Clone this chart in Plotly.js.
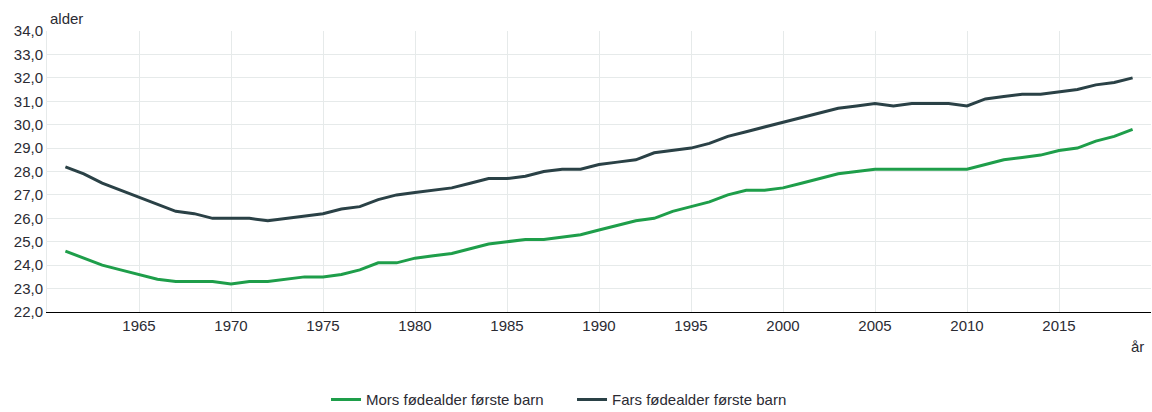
<!DOCTYPE html>
<html>
<head>
<meta charset="utf-8">
<script src="https://cdn.plot.ly/plotly-3.0.1.min.js"></script>
<style>html,body{margin:0;padding:0;background:#fff;}#chart{width:1152px;height:412px;}</style>
</head>
<body>
<div id="chart"></div>
<script>
const years = [1961,1962,1963,1964,1965,1966,1967,1968,1969,1970,1971,1972,1973,1974,1975,1976,1977,1978,1979,1980,1981,1982,1983,1984,1985,1986,1987,1988,1989,1990,1991,1992,1993,1994,1995,1996,1997,1998,1999,2000,2001,2002,2003,2004,2005,2006,2007,2008,2009,2010,2011,2012,2013,2014,2015,2016,2017,2018,2019];
const mors = [24.6,24.3,24.0,23.8,23.6,23.4,23.3,23.3,23.3,23.2,23.3,23.3,23.4,23.5,23.5,23.6,23.8,24.1,24.1,24.3,24.4,24.5,24.7,24.9,25.0,25.1,25.1,25.2,25.3,25.5,25.7,25.9,26.0,26.3,26.5,26.7,27.0,27.2,27.2,27.3,27.5,27.7,27.9,28.0,28.1,28.1,28.1,28.1,28.1,28.1,28.3,28.5,28.6,28.7,28.9,29.0,29.3,29.5,29.8];
const fars = [28.2,27.9,27.5,27.2,26.9,26.6,26.3,26.2,26.0,26.0,26.0,25.9,26.0,26.1,26.2,26.4,26.5,26.8,27.0,27.1,27.2,27.3,27.5,27.7,27.7,27.8,28.0,28.1,28.1,28.3,28.4,28.5,28.8,28.9,29.0,29.2,29.5,29.7,29.9,30.1,30.3,30.5,30.7,30.8,30.9,30.8,30.9,30.9,30.9,30.8,31.1,31.2,31.3,31.3,31.4,31.5,31.7,31.8,32.0];
const seriesNames = ["Mors fødealder første barn","Fars fødealder første barn"];
const xTicks = [1965,1970,1975,1980,1985,1990,1995,2000,2005,2010,2015];
const yTitle = "alder";
const xTitle = "år";

const font = "Liberation Sans, Arial, sans-serif";
const txt = "#2b2b33";
const traces = [
  {x: years, y: mors, name: seriesNames[0], type: "scatter", mode: "lines",
   line: {color: "#1e9e4a", width: 3}},
  {x: years, y: fars, name: seriesNames[1], type: "scatter", mode: "lines",
   line: {color: "#2a4146", width: 3}}
];
const layout = {
  width: 1152, height: 412,
  margin: {l: 47, r: 1, t: 31, b: 100},
  paper_bgcolor: "#fff", plot_bgcolor: "#fff",
  separators: ", ",
  font: {family: font, size: 15, color: txt},
  showlegend: true,
  legend: {orientation: "h", xref: "container", yref: "container",
           x: 0.283, xanchor: "left", y: 0.03, yanchor: "middle",
           entrywidth: 201, entrywidthmode: "pixels",
           font: {family: font, size: 15, color: txt}, tracegroupgap: 0, itemwidth: 30},
  xaxis: {range: [1960, 2020], tickvals: xTicks,
          showgrid: true, gridcolor: "#e6eaea", gridwidth: 1, zeroline: false,
          showline: true, linecolor: "#000", linewidth: 1, ticks: "", ticklen: 0,
          tickfont: {family: font, size: 15, color: txt}},
  yaxis: {range: [22, 34], dtick: 1, tickformat: ".1f",
          showgrid: true, gridcolor: "#e6eaea", gridwidth: 1, zeroline: false,
          showline: true, linecolor: "#e6eaea", ticks: "",
          tickfont: {family: font, size: 15, color: txt}},
  annotations: [
    {text: yTitle, xref: "paper", yref: "paper", x: 0, y: 1, xanchor: "left", yanchor: "bottom",
     xshift: 1, yshift: 2, showarrow: false, font: {family: font, size: 15, color: txt}},
    {text: xTitle, xref: "paper", yref: "paper", x: 1, y: 0, xanchor: "right", yanchor: "middle",
     xshift: -5, yshift: -34, showarrow: false, font: {family: font, size: 15, color: txt}}
  ]
};
Plotly.newPlot("chart", traces, layout, {displayModeBar: false, staticPlot: true});
</script>
</body>
</html>
